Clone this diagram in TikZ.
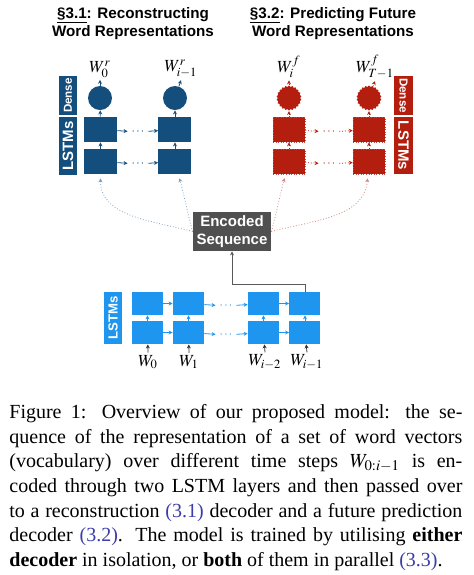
\documentclass[tikz,border=0pt]{standalone}
\usepackage{mathptmx}
\usepackage{fontspec}
\setmainfont{Liberation Serif}
\setsansfont{Liberation Sans}
\usetikzlibrary{arrows.meta,shapes.geometric}
\begin{document}
\begin{tikzpicture}[x=0.5pt,y=-0.5pt,
  ttl/.style={font=\sffamily\bfseries\fontsize{7.6}{9}\selectfont,align=center,inner sep=0pt},
  tag/.style={text=white,font=\sffamily\bfseries,inner sep=0pt},
  cellr/.style={fill=rblue,minimum width=16.5pt,minimum height=12.5pt,inner sep=0pt},
  cellf/.style={fill=fred,draw=fred!80!white,line width=0.3pt,densely dotted,minimum width=16pt,minimum height=12.5pt,inner sep=0pt},
  celle/.style={fill=eblue,minimum width=15.5pt,minimum height=11.5pt,inner sep=0pt},
  ballr/.style={circle,fill=rblue,minimum size=12pt,inner sep=0pt},
  ballf/.style={star,star points=22,star point ratio=1.12,fill=fred,minimum size=12.5pt,inner sep=0pt},
  wlab/.style={font=\fontsize{8.5}{8.5}\selectfont,inner sep=1pt},
  gap/.style={minimum width=10pt,inner sep=0pt,font=\fontsize{6}{6}\selectfont},
  tip/.style={-{Stealth[length=2pt,width=2pt]}},
]
\definecolor{rblue}{RGB}{20,78,125}
\definecolor{fred}{RGB}{180,30,15}
\definecolor{eblue}{RGB}{30,150,240}
\definecolor{encgray}{RGB}{80,80,80}
\definecolor{refblue}{RGB}{60,60,170}

\useasboundingbox (0,0) rectangle (474,575);

\node[ttl] (tr) at (133,24) {\underline{\S3.1}: Reconstructing\\Word Representations};
\node[ttl] (tf) at (333,24) {\underline{\S3.2}: Predicting Future\\Word Representations};

\node[tag,fill=rblue,rotate=90,minimum width=19.5pt,minimum height=9pt,font=\sffamily\bfseries\fontsize{5.8}{6}\selectfont] (rdense) at (68,95.5) {Dense};
\node[tag,fill=rblue,rotate=90,minimum width=29pt,minimum height=9pt,font=\sffamily\bfseries\fontsize{7.5}{8}\selectfont] (rlstm) at (68,146) {LSTMs};
\node[ballr] (rb1) at (100,98) {};
\node[ballr] (rb2) at (175,98) {};
\node[cellr] (ru1) at (100.5,129.5) {};
\node[cellr] (rl1) at (100.5,161.5) {};
\node[cellr] (ru2) at (175,129.5) {};
\node[cellr] (rl2) at (175,161.5) {};
\node[gap,text=rblue] (rgu) at (138,132) {$\cdots$};
\node[gap,text=rblue] (rgl) at (138,164) {$\cdots$};
\node[wlab] (wr1) at (100,69) {$W^r_0$};
\node[wlab] (wr2) at (181,69) {$W^r_{i-1}$};

\node[tag,fill=fred,rotate=-90,minimum width=19.5pt,minimum height=9.5pt,font=\sffamily\bfseries\fontsize{5.8}{6}\selectfont] (fdense) at (403.5,95.5) {Dense};
\node[tag,fill=fred,rotate=-90,minimum width=28.5pt,minimum height=9.5pt,font=\sffamily\bfseries\fontsize{7.5}{8}\selectfont] (flstm) at (403.5,145.5) {LSTMs};
\node[ballf] (fb1) at (289,98) {};
\node[ballf] (fb2) at (369,98) {};
\node[cellf] (fu1) at (289,129.5) {};
\node[cellf] (fl1) at (289,161.5) {};
\node[cellf] (fu2) at (369,129.5) {};
\node[cellf] (fl2) at (369,161.5) {};
\node[gap,text=fred] (fgu) at (329,132) {$\cdots$};
\node[gap,text=fred] (fgl) at (329,164) {$\cdots$};
\node[wlab] (wf1) at (289,67) {$W^f_i$};
\node[wlab] (wf2) at (375,67) {$W^f_{T-1}$};

\node[fill=encgray,text=white,font=\sffamily\bfseries\fontsize{7.5}{9}\selectfont,align=center,minimum width=39pt,minimum height=19.5pt,inner sep=0pt] (enc) at (232,231.5) {Encoded\\Sequence};

\node[tag,fill=eblue,rotate=90,minimum width=26pt,minimum height=9pt,font=\sffamily\bfseries\fontsize{6.6}{7}\selectfont] (elstm) at (113,318) {LSTMs};
\node[celle] (eu1) at (147.5,303.5) {};
\node[celle] (el1) at (147.5,332.5) {};
\node[celle] (eu2) at (188.5,303.5) {};
\node[celle] (el2) at (188.5,332.5) {};
\node[celle] (eu3) at (263.5,303.5) {};
\node[celle] (el3) at (263.5,332.5) {};
\node[celle] (eu4) at (305,303.5) {};
\node[celle] (el4) at (305,332.5) {};
\node[gap,text=eblue] (egu) at (226,306) {$\cdots$};
\node[gap,text=eblue] (egl) at (226,335) {$\cdots$};
\node[wlab] (we1) at (148,362) {$W_0$};
\node[wlab] (we2) at (189,362) {$W_1$};
\node[wlab] (we3) at (265,362) {$W_{i-2}$};
\node[wlab] (we4) at (307,362) {$W_{i-1}$};

\foreach \c in {1,2}{
  \draw[tip,rblue] (rl\c) -- (ru\c);
  \draw[tip,rblue] (ru\c) -- (rb\c);
  \draw[tip,rblue] (rb\c) -- (wr\c.south);
  \draw[tip,fred,densely dotted] (fl\c) -- (fu\c);
  \draw[tip,fred,densely dotted] (fu\c) -- (fb\c);
  \draw[tip,fred,densely dotted] (fb\c) -- (wf\c.south);
}
\foreach \r in {u,l}{
  \draw[tip,rblue] (r\r1) -- (rg\r);
  \draw[tip,rblue] (rg\r) -- (r\r2);
  \draw[tip,fred,densely dotted] (f\r1) -- (fg\r);
  \draw[tip,fred,densely dotted] (fg\r) -- (f\r2);
  \draw[tip,eblue] (e\r1) -- (e\r2);
  \draw[tip,eblue] (e\r2) -- (eg\r);
  \draw[tip,eblue] (eg\r) -- (e\r3);
  \draw[tip,eblue] (e\r3) -- (e\r4);
}
\foreach \c in {1,...,4}{
  \draw[tip,eblue] (el\c) -- (eu\c);
  \draw[tip,black!80] (we\c.north) -- (el\c);
}

\draw[tip,rblue!55,densely dotted,shorten >=2pt] (enc.west) to[out=165,in=-90] (rl1);
\draw[tip,rblue!55,densely dotted,shorten >=2pt] (enc.west) to[out=105,in=-75] (rl2);
\draw[tip,fred!55,densely dotted,shorten >=2pt] (enc.east) to[out=75,in=-105] (fl1);
\draw[tip,fred!55,densely dotted,shorten >=2pt] (enc.east) to[out=15,in=-95] (fl2);
\draw[tip,black!65] (eu4.north) -- ++(0,-7) -| (enc.south);

\node[anchor=north west,inner sep=0pt,text width=226.5pt,align=justify,font=\fontsize{10}{12.35}\selectfont] (cap) at (9,404) {\parfillskip=0pt
Figure 1: Overview of our proposed model: the se-\linebreak
quence of the representation of a set of word vectors\linebreak
(vocabulary) over different time steps $W_{0:i-1}$ is en-\linebreak
coded through two LSTM layers and then passed over\linebreak
to a reconstruction \textcolor{refblue}{(3.1)} decoder and a future prediction\linebreak
decoder \textcolor{refblue}{(3.2)}. The model is trained by utilising \textbf{either}\linebreak
\textbf{decoder} in isolation, or \textbf{both} of them in parallel \textcolor{refblue}{(3.3)}.};
\end{tikzpicture}
\end{document}
